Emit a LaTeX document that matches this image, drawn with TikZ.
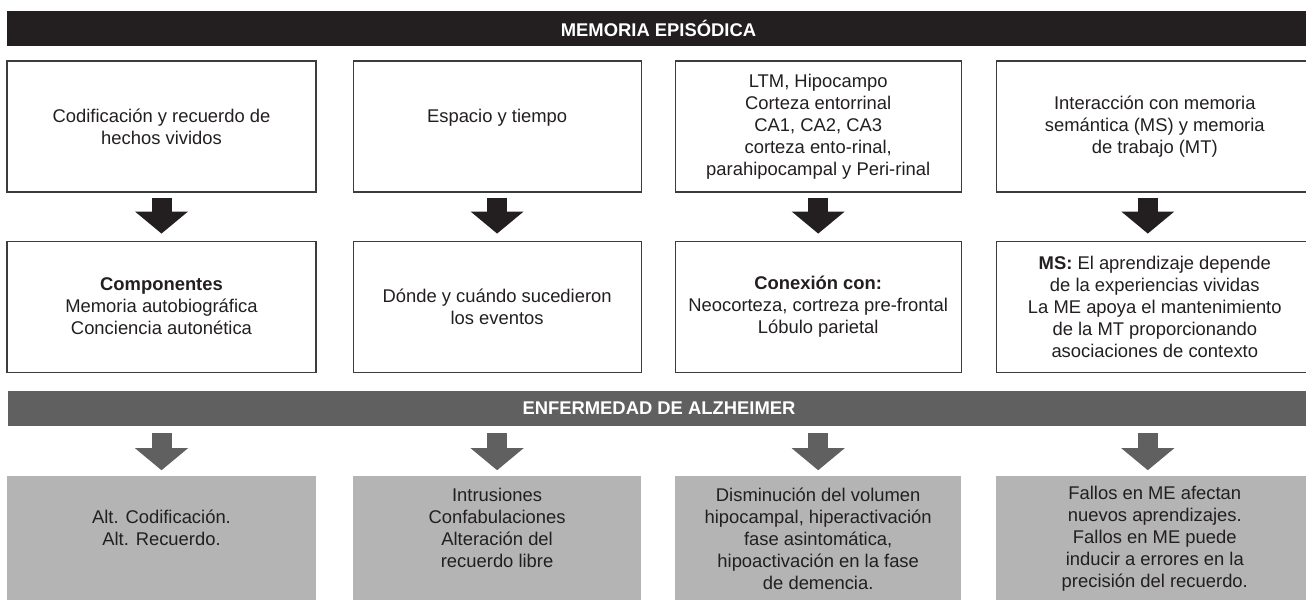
\documentclass[tikz,border=0pt]{standalone}
\usepackage{fontspec}
\setmainfont{Liberation Sans}
\usetikzlibrary{arrows.meta,positioning}
\definecolor{barcolor}{RGB}{35,31,32}
\definecolor{adcolor}{RGB}{95,96,95}
\definecolor{adfill}{RGB}{179,180,179}
\definecolor{edgecolor}{RGB}{60,60,60}

\begin{document}
\begin{tikzpicture}[
    x=1pt, y=-1pt,
    bar/.style={rectangle, fill=barcolor, text=white, minimum width=1303pt, minimum height=35pt, inner sep=0pt, font=\fontsize{18.4}{22}\selectfont\bfseries},
    block/.style={rectangle, draw=edgecolor, line width=1.1pt, fill=white, text=barcolor, align=center, minimum height=131pt, inner sep=0pt, font=\fontsize{18.4}{22}\selectfont},
    greyblock/.style={rectangle, fill=adfill, text=barcolor, align=center, minimum height=124pt, inner sep=0pt, anchor=north, yshift=-50pt, font=\fontsize{18.4}{22}\selectfont},
    arrow/.style={draw=barcolor, line width=20pt, -{Triangle[width=53pt,length=22pt,line width=0pt]}, shorten <=5pt, shorten >=7pt},
    greyarrow/.style={arrow, draw=adcolor, shorten <=7pt, shorten >=6pt}
]
\useasboundingbox (0,0) rectangle (1306,600);

% Memoria episodica
\node[bar] (epi) at (658.5,28.5) {MEMORIA EPISÓDICA};

% first row
\node[block, minimum width=309pt] (cod) at (161.5,126.5) {Codificación y recuerdo de\\hechos vividos};
\node[block, minimum width=288pt, right=36pt of cod] (esp) {Espacio y tiempo\\~};
\node[block, minimum width=286pt, right=33pt of esp] (ltm) {LTM, Hipocampo\\Corteza entorrinal\\CA1, CA2, CA3\\corteza ento-rinal,\\parahipocampal y Peri-rinal};
\node[block, minimum width=317pt, right=34pt of ltm] (inter) {Interacción con memoria\\semántica (MS) y memoria\\de trabajo (MT)};

% second row
\node[block, minimum width=309pt, below=48pt of cod] (comp) {\textbf{Componentes}\\Memoria autobiográfica\\Conciencia autonética};
\node[block, minimum width=288pt, below=48pt of esp] (donde) {Dónde y cuándo sucedieron\\los eventos};
\node[block, minimum width=286pt, below=48pt of ltm] (conex) {\textbf{Conexión con:}\\Neocorteza, cortreza pre-frontal\\Lóbulo parietal};
\node[block, minimum width=317pt, below=48pt of inter] (ms) {\textbf{MS:} El aprendizaje depende\\de la experiencias vividas\\La ME apoya el mantenimiento\\de la MT proporcionando\\asociaciones de contexto};

\draw[arrow] (cod) -- (comp);
\draw[arrow] (esp) -- (donde);
\draw[arrow] (ltm) -- (conex);
\draw[arrow] ([xshift=-7pt]inter.south) -- ([xshift=-7pt]ms.north);

% Alzheimer
\node[bar, fill=adcolor] (alz) at (659,408.5) {ENFERMEDAD DE ALZHEIMER};

\node[greyblock, minimum width=309pt] (altc) at (comp.south |- alz.south) {Alt. Codificación.\\Alt. Recuerdo.\\~};
\node[greyblock, minimum width=288pt] (intr) at (donde.south |- alz.south) {Intrusiones\\Confabulaciones\\Alteración del\\recuerdo libre\\~};
\node[greyblock, minimum width=286pt] (dism) at (conex.south |- alz.south) {Disminución del volumen\\hipocampal, hiperactivación\\fase asintomática,\\hipoactivación en la fase\\de demencia.};
\node[greyblock, minimum width=317pt] (fallos) at (ms.south |- alz.south) {Fallos en ME afectan\\nuevos aprendizajes.\\Fallos en ME puede\\inducir a errores en la\\precisión del recuerdo.};

\draw[greyarrow] (alz.south -| altc) -- (altc);
\draw[greyarrow] (alz.south -| intr) -- (intr);
\draw[greyarrow] (alz.south -| dism) -- (dism);
\draw[greyarrow] ([xshift=-7pt]alz.south -| fallos) -- ([xshift=-7pt]fallos.north);

\end{tikzpicture}
\end{document}
